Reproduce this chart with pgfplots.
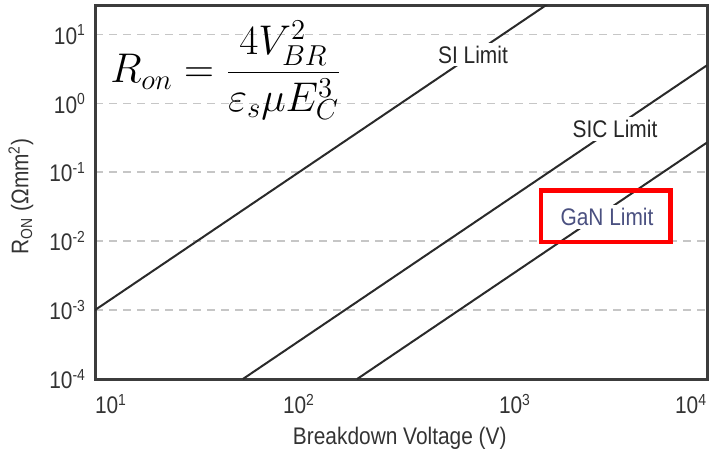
\documentclass[border=0pt]{standalone}
\usepackage{pgfplots}
\pgfplotsset{compat=1.18}
\usepackage{fontspec}
\setmainfont{Liberation Sans}[FakeStretch=0.87]
\definecolor{framegray}{HTML}{3C3C3C}
\definecolor{linegray}{HTML}{2A2A2A}
\definecolor{gangray}{HTML}{4A5080}
\begin{document}
\begin{tikzpicture}
% page frame: 712 x 455 px at 0.5 pt per px
\useasboundingbox (-47.5pt,-38pt) rectangle (308.5pt,189.5pt);
\begin{axis}[
  at={(0pt,0pt)}, anchor=south west,
  scale only axis, width=306pt, height=186.5pt,
  xmode=log, ymode=log,
  xmin=10, xmax=10000, ymin=1e-4, ymax=25.7,
  axis line style={framegray, line width=1.5pt},
  major tick length=0pt, minor tick length=0pt,
  xtick={10,100,1000,10000},
  xticklabels={\makebox[0pt][l]{10\textsuperscript{1}},10\textsuperscript{2},\hspace{12pt}10\textsuperscript{3},\makebox[0pt][r]{10\textsuperscript{4}}},
  ytick={1e-4,1e-3,1e-2,1e-1,1,10},
  yticklabels={10\textsuperscript{-4},10\textsuperscript{-3},10\textsuperscript{-2},10\textsuperscript{-1},10\textsuperscript{0},10\textsuperscript{1}},
  ticklabel style={font=\fontsize{12}{14}\selectfont, text=black!80},
  xticklabel style={yshift=-4pt},
  yticklabel style={xshift=-1pt},
  ymajorgrids, xmajorgrids=false,
  major grid style={gray!45, line width=0.7pt, dash pattern=on 4pt off 3pt},
  xlabel={Breakdown Voltage (V)},
  ylabel={R\textsubscript{ON} (Ωmm\textsuperscript{2})},
  label style={font=\fontsize{12}{14}\selectfont, text=black!80},
  xlabel style={at={(axis description cs:0.498,-0.158)}, anchor=center},
  ylabel style={at={(axis description cs:-0.121,0.49)}, anchor=center},
  clip=true,
]
% Si limit
\addplot[linegray, line width=1pt, mark=none] coordinates {(10,1e-3) (3162.3,100)};
% SiC limit
\addplot[linegray, line width=1pt, mark=none] coordinates {(53.1,1e-4) (10000,3.55)};
% GaN limit
\addplot[linegray, line width=1pt, mark=none] coordinates {(192.8,1e-4) (10000,0.269)};

\node[fill=white, inner sep=1.5pt, font=\fontsize{12}{14}\selectfont, text=black!85] at (axis cs:713,5.1) {SI Limit};
\node[fill=white, inner sep=1.5pt, font=\fontsize{12}{14}\selectfont, text=black!85] at (axis cs:3540,0.42) {SIC Limit};
\node[fill=white, inner sep=1.5pt, font=\fontsize{12}{14}\selectfont, text=gangray] at (axis cs:3236,0.0223) {GaN Limit};
\draw[red, line width=2.4pt] (axis cs:1535,0.0548) rectangle (axis cs:6596,0.00968);

\node[anchor=base west, inner sep=0pt, font=\fontsize{20}{24}\selectfont]
  at (rel axis cs:0.0245,0.794)
  {$\displaystyle R_{on}=\frac{4V_{BR}^{2}}{\varepsilon_{s}\mu E_{C}^{3}}$};
\end{axis}
\end{tikzpicture}
\end{document}
